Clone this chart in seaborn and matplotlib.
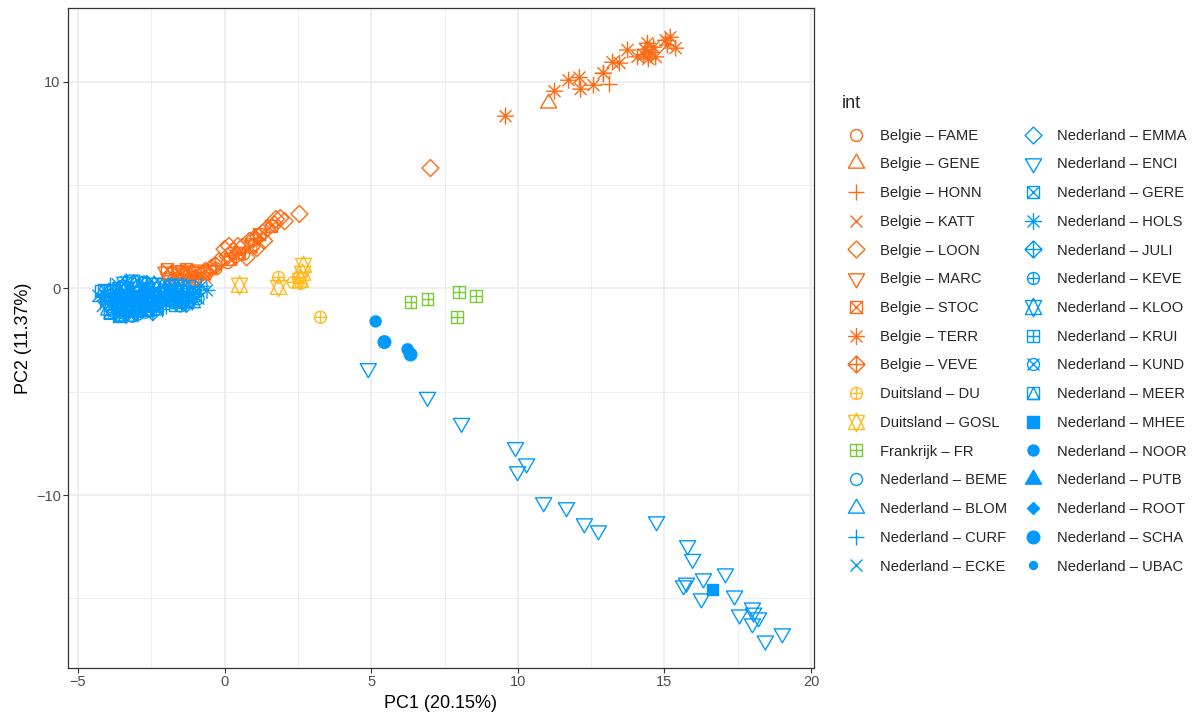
import numpy as np
import pandas as pd
import matplotlib
matplotlib.use("Agg")
import matplotlib.pyplot as plt
import seaborn as sns
from matplotlib.path import Path
from matplotlib.markers import MarkerStyle
from matplotlib.lines import Line2D
from matplotlib.colors import to_rgba

# ---------------- data (PC1, PC2) per population ----------------
BE_FAME = [(-1.6, 0.5), (-0.3, 0.95), (0.1, 1.25), (1.0, 2.1), (0.65, 1.65), (-1.15, 0.55)]
BE_GENE = [(11.05, 8.95), (-1.35, 0.75), (-1.85, 0.65)]
BE_HONN = [(13.1, 9.9), (12.9, 10.4), (-1.2, 0.6), (-0.75, 0.8)]
BE_KATT = [(-1.5, 0.7), (-0.65, 0.5), (-1.95, 0.35)]
BE_LOON = [(7.02, 5.82), (2.55, 3.6), (1.9, 3.4), (2.05, 3.25), (1.7, 3.1), (1.3, 2.7), (1.45, 2.9),
           (1.15, 2.5), (0.85, 2.3), (0.6, 2.0), (0.3, 1.8), (0.1, 1.55), (0.0, 1.9), (-0.2, 1.3),
           (-0.45, 1.0), (-0.65, 0.85), (0.75, 1.5), (1.1, 1.95), (1.75, 3.35), (0.45, 2.05),
           (0.15, 2.05), (1.35, 2.3)]
BE_MARC = [(-2.0, 0.8), (-1.7, 0.75), (-1.4, 0.85), (-1.1, 0.8), (-0.8, 0.9), (-0.5, 0.85), (-1.9, 0.5)]
BE_STOC = [(-1.95, 0.9), (-1.6, 0.8), (-1.3, 0.9), (-1.0, 0.75), (-0.7, 0.7), (0.2, 1.4), (0.5, 1.7),
           (0.9, 2.0), (1.2, 2.6), (1.6, 3.0), (-1.5, 0.4), (-1.1, 0.35), (-2.3, -0.6), (-1.5, -0.6)]
BE_TERR = [(9.58, 8.33), (11.25, 9.54), (11.73, 10.07), (12.1, 10.2), (12.14, 9.64), (12.58, 9.83),
           (12.92, 10.41), (13.23, 10.94), (13.47, 10.9), (13.74, 11.53), (14.08, 11.2), (14.3, 11.3),
           (14.45, 11.1), (14.55, 11.4), (14.42, 11.86), (14.63, 11.67), (14.7, 11.2), (15.04, 12.0),
           (15.2, 12.15), (15.38, 11.62), (15.1, 11.77), (14.35, 11.55)]
BE_VEVE = [(-0.3, 1.1), (0.4, 1.6), (1.0, 2.4), (-1.0, 0.5), (-2.7, -0.85)]
DU_DU = [(1.84, 0.53), (2.35, 0.29), (2.6, 0.24), (2.52, 0.48), (3.27, -1.4)]
DU_GOSL = [(0.51, 0.15), (1.84, 0.05), (2.69, 1.11), (2.66, 0.73), (2.59, 0.39)]
FR_FR = [(6.34, -0.68), (6.92, -0.53), (7.98, -0.19), (8.59, -0.39), (7.94, -1.4)]
NL_BEME = [(-4.05, -0.45), (-3.5, 0.1), (-2.9, -0.85), (-2.2, -0.2), (-1.6, -0.45), (-3.75, -0.85),
           (-1.05, -0.2), (-2.55, -0.55), (-3.2, -0.3), (-3.45, -1.2), (-2.75, 0.3)]
NL_BLOM = [(-3.95, -0.2), (-3.3, -0.6), (-2.6, 0.1), (-1.9, -0.6), (-1.3, 0.0), (-3.55, -1.0),
           (-2.35, -0.9), (-3.0, 0.0), (-3.05, -1.15), (-1.55, -0.15)]
NL_CURF = [(-3.9, 0.15), (-3.1, -1.05), (-2.4, -0.4), (-1.7, 0.1), (-4.25, -0.6), (-2.0, -0.85),
           (-2.75, -0.3), (-3.45, -0.45), (-3.7, -1.15), (-2.15, -1.0)]
NL_ECKE = [(-4.15, -0.85), (-3.4, -0.25), (-2.7, -0.95), (-2.1, 0.15), (-1.4, -0.4), (-0.95, -0.1),
           (-3.65, 0.2), (-3.0, -0.6), (-3.25, -1.25), (-4.3, -0.35)]
NL_EMMA = [(-3.7, -0.4), (-3.0, 0.2), (-2.5, -0.7), (-1.8, -0.3), (-1.2, -0.55), (-4.0, -0.7),
           (-2.2, 0.1), (-3.35, -0.85), (-2.85, -0.35), (-1.45, 0.1)]
NL_ENCI = [(4.9, -3.87), (6.92, -5.26), (8.08, -6.52), (9.92, -7.69), (10.3, -8.48), (9.99, -8.86),
           (10.88, -10.36), (11.66, -10.6), (12.27, -11.38), (12.75, -11.72), (14.73, -11.28),
           (15.79, -12.44), (15.96, -13.1), (15.65, -14.38), (15.75, -14.25), (16.33, -14.04),
           (16.26, -15.01), (17.08, -13.8), (17.39, -14.87), (17.56, -15.79), (18.0, -15.45),
           (18.0, -16.22), (18.21, -15.93), (18.04, -15.7), (18.44, -17.05), (19.02, -16.7)]
NL_GERE = [(-3.6, 0.0), (-2.8, -0.5), (-2.3, -1.0), (-1.5, -0.1), (-3.3, -1.1), (-1.0, -0.35),
           (-3.9, -0.5), (-2.05, -0.45), (-3.55, -1.3), (-2.6, -0.2)]
NL_HOLS = [(-0.6, -0.1), (-3.2, -0.1), (-2.5, -0.3), (-1.9, 0.0), (-4.1, -0.3), (-0.8, 0.1),
           (-2.85, -1.05), (-1.35, -0.7), (-3.35, 0.3), (-2.0, -0.65)]
NL_JULI = [(-3.5, -0.75), (-2.9, -0.2), (-2.2, -0.6), (-1.6, -0.2), (-3.85, -0.6), (-1.3, -0.75),
           (-2.65, 0.2), (-3.15, -0.9), (-3.8, -1.05), (-2.45, -1.15)]
NL_KEVE = [(-3.8, -0.1), (-3.2, -0.75), (-2.6, -0.4), (-2.0, -0.5), (-1.1, -0.3), (-2.8, 0.25),
           (-3.55, -0.3), (-1.75, -0.7), (-2.95, -1.25), (-1.85, 0.2)]
NL_KLOO = [(-3.4, 0.2), (-2.7, -0.7), (-2.1, -0.3), (-1.45, -0.6), (-3.0, -1.0), (-3.95, -0.95),
           (-2.4, 0.15), (-1.65, 0.05), (-3.35, -1.25), (-1.1, -0.6)]
NL_KRUI = [(-3.7, -0.7), (-3.1, -0.4), (-2.4, 0.0), (-1.7, -0.8), (-3.3, -1.05), (-1.2, 0.1),
           (-2.55, -1.0), (-4.1, -0.1), (-3.6, -1.35), (-2.25, -0.25)]
NL_KUND = [(-3.9, -0.35), (-3.3, 0.0), (-2.8, -0.8), (-2.3, -0.4), (-1.5, -0.85), (-0.9, -0.5),
           (-2.0, -0.15), (-3.6, -1.05), (-3.15, -1.35), (-2.7, -1.15)]
NL_MEER = [(-3.6, -0.9), (-2.9, -0.6), (-2.45, -0.8), (-1.8, -0.5), (-2.6, -1.05), (-4.2, -0.15),
           (-1.25, -0.3), (-3.25, -0.55), (-3.9, -1.2), (-3.1, 0.35)]
NL_MHEE = [(16.64, -14.58)]
NL_NOOR = [(5.15, -1.6), (6.24, -2.95)]
NL_PUTB = [(-3.2, -0.5), (-2.7, -0.2)]
NL_ROOT = [(-3.5, -0.5), (-2.2, -0.8)]
NL_SCHA = [(5.45, -2.6), (6.34, -3.2)]
NL_UBAC = [(-3.0, -0.7), (-3.7, -0.3)]

# (country, site, shape code, points)
populations = [
    ("Belgie", "FAME", 1, BE_FAME), ("Belgie", "GENE", 2, BE_GENE), ("Belgie", "HONN", 3, BE_HONN),
    ("Belgie", "KATT", 4, BE_KATT), ("Belgie", "LOON", 5, BE_LOON), ("Belgie", "MARC", 6, BE_MARC),
    ("Belgie", "STOC", 7, BE_STOC), ("Belgie", "TERR", 8, BE_TERR), ("Belgie", "VEVE", 9, BE_VEVE),
    ("Duitsland", "DU", 10, DU_DU), ("Duitsland", "GOSL", 11, DU_GOSL), ("Frankrijk", "FR", 12, FR_FR),
    ("Nederland", "BEME", 1, NL_BEME), ("Nederland", "BLOM", 2, NL_BLOM), ("Nederland", "CURF", 3, NL_CURF),
    ("Nederland", "ECKE", 4, NL_ECKE), ("Nederland", "EMMA", 5, NL_EMMA), ("Nederland", "ENCI", 6, NL_ENCI),
    ("Nederland", "GERE", 7, NL_GERE), ("Nederland", "HOLS", 8, NL_HOLS), ("Nederland", "JULI", 9, NL_JULI),
    ("Nederland", "KEVE", 10, NL_KEVE), ("Nederland", "KLOO", 11, NL_KLOO), ("Nederland", "KRUI", 12, NL_KRUI),
    ("Nederland", "KUND", 13, NL_KUND), ("Nederland", "MEER", 14, NL_MEER), ("Nederland", "MHEE", 15, NL_MHEE),
    ("Nederland", "NOOR", 16, NL_NOOR), ("Nederland", "PUTB", 17, NL_PUTB), ("Nederland", "ROOT", 18, NL_ROOT),
    ("Nederland", "SCHA", 19, NL_SCHA), ("Nederland", "UBAC", 20, NL_UBAC),
]
country_colors = {"Belgie": "#FF6A13", "Duitsland": "#FFBB22", "Frankrijk": "#77CC33", "Nederland": "#0099FF"}

# ---------------- R-like point shapes as paths ----------------
B = 1.6  # common bounding value so every shape gets the same scale


def poly(pts):
    pts = list(pts) + [pts[0]]
    return Path(pts, [Path.MOVETO] + [Path.LINETO] * (len(pts) - 2) + [Path.CLOSEPOLY])


def seg(a, b):
    return Path([a, b], [Path.MOVETO, Path.LINETO])


def circ(r):
    return Path.circle((0, 0), r)


def plus(h):
    return [seg((-h, 0), (h, 0)), seg((0, -h), (0, h))]


XX = [seg((-1, -1), (1, 1)), seg((-1, 1), (1, -1))]
SQ = [(-1, -1), (1, -1), (1, 1), (-1, 1)]
T0, T1, T2 = 1.55512, 1.34677, 0.77756
S2 = 1.41421
YC = 0.5 * (T0 + T2)
TRI_UP = [(0, T0), (T1, -T2), (-T1, -T2)]
TRI_DN = [(0, -T0), (T1, T2), (-T1, T2)]
DIA = [(0, S2), (S2, 0), (0, -S2), (-S2, 0)]

shape_parts = {
    1: [circ(1)], 2: [poly(TRI_UP)], 3: plus(S2), 4: XX, 5: [poly(DIA)], 6: [poly(TRI_DN)],
    7: [poly(SQ)] + XX, 8: XX + plus(S2), 9: [poly(DIA)] + plus(S2), 10: [circ(1)] + plus(1),
    11: [poly([(0, -T0), (T1, YC), (-T1, YC)]), poly([(0, T0), (T1, -YC), (-T1, -YC)])],
    12: [poly(SQ)] + plus(1), 13: [circ(1)] + XX, 14: [poly(SQ), poly([(0, 1), (1, -1), (-1, -1)])],
    15: [poly([(-0.92, -0.92), (0.92, -0.92), (0.92, 0.92), (-0.92, 0.92)])], 16: [circ(0.92)],
    17: [poly(TRI_UP)], 18: [poly([(0, 1), (1, 0), (0, -1), (-1, 0)])], 19: [circ(1.05)], 20: [circ(0.66)],
}
FILLED = {15, 16, 17, 18, 19, 20}


def shape_marker(code):
    anchor = Path([[B, 0.0]], [Path.MOVETO])
    return MarkerStyle(Path.make_compound_path(anchor, *shape_parts[code]))


# ---------------- build table ----------------
rows = []
for country, site, code, pts in populations:
    label = f"{country} \u2013 {site}"
    for x, y in pts:
        rows.append({"PC1": x, "PC2": y, "int": label})
df = pd.DataFrame(rows)
labels = [f"{c} \u2013 {s}" for c, s, _, _ in populations]
palette = {f"{c} \u2013 {s}": country_colors[c] for c, s, _, _ in populations}
markers = {f"{c} \u2013 {s}": shape_marker(code) for c, s, code, _ in populations}
filled = {f"{c} \u2013 {s}": (code in FILLED) for c, s, code, _ in populations}

# ---------------- plot ----------------
sns.set_theme(style="white")
plt.rcParams["font.family"] = ["Liberation Sans", "DejaVu Sans"]

S = 190
LW = 1.0
fig = plt.figure(figsize=(12, 7.17), dpi=100)
ax = fig.add_axes([68 / 1200, 1 - 668 / 717, (814 - 68) / 1200, (668 - 8.3) / 717])

sns.scatterplot(data=df, x="PC1", y="PC2", hue="int", style="int", hue_order=labels, style_order=labels,
                palette=palette, markers=markers, s=S, linewidth=LW, legend=False, ax=ax, zorder=3)
coll = ax.collections[0]
edge = np.array([to_rgba(palette[k]) for k in df["int"]])
face = np.array([to_rgba(palette[k]) if filled[k] else (0, 0, 0, 0) for k in df["int"]])
coll.set_edgecolors(edge)
coll.set_facecolors(face)
coll.set_linewidths(LW)

ax.set_xlim(-5.34, 20.1)
ax.set_ylim(-18.37, 13.55)
ax.set_xticks([-5, 0, 5, 10, 15, 20])
ax.set_xticks([-2.5, 2.5, 7.5, 12.5, 17.5], minor=True)
ax.set_yticks([-10, 0, 10])
ax.set_yticks([-15, -5, 5], minor=True)
ax.set_xticklabels(["\u22125", "0", "5", "10", "15", "20"])
ax.set_yticklabels(["\u221210", "0", "10"])
ax.grid(True, which="major", color="#EBEBEB", linewidth=1.1, zorder=0)
ax.grid(True, which="minor", color="#EBEBEB", linewidth=0.55, zorder=0)
ax.set_axisbelow(True)
ax.tick_params(which="major", direction="out", length=3.3, width=0.8, color="#333333",
               labelcolor="#4D4D4D", labelsize=10.5, pad=2, left=True, bottom=True)
ax.tick_params(which="minor", length=0)
for sp in ax.spines.values():
    sp.set_color("#333333")
    sp.set_linewidth(0.9)
ax.set_xlabel("PC1 (20.15%)", fontsize=13, color="black", labelpad=4)
ax.set_ylabel("PC2 (11.37%)", fontsize=13, color="black", labelpad=3)

# legend
handles = []
ms = np.sqrt(S)
for lab in labels:
    col = palette[lab]
    handles.append(Line2D([], [], linestyle="none", marker=markers[lab], markersize=ms,
                          markeredgecolor=col, markerfacecolor=col if filled[lab] else "none",
                          markeredgewidth=LW))
leg = fig.legend(handles, labels, ncol=2, loc="upper left", bbox_to_anchor=(842 / 1200, 1 - 95 / 717),
                 frameon=False, title="int", alignment="left", fontsize=10.6, title_fontsize=13,
                 labelspacing=1.0, handlelength=1.9, handletextpad=0.7, columnspacing=0.8,
                 borderpad=0, borderaxespad=0)
leg._legend_box.sep = 12

fig.savefig("out.png", dpi=100)
